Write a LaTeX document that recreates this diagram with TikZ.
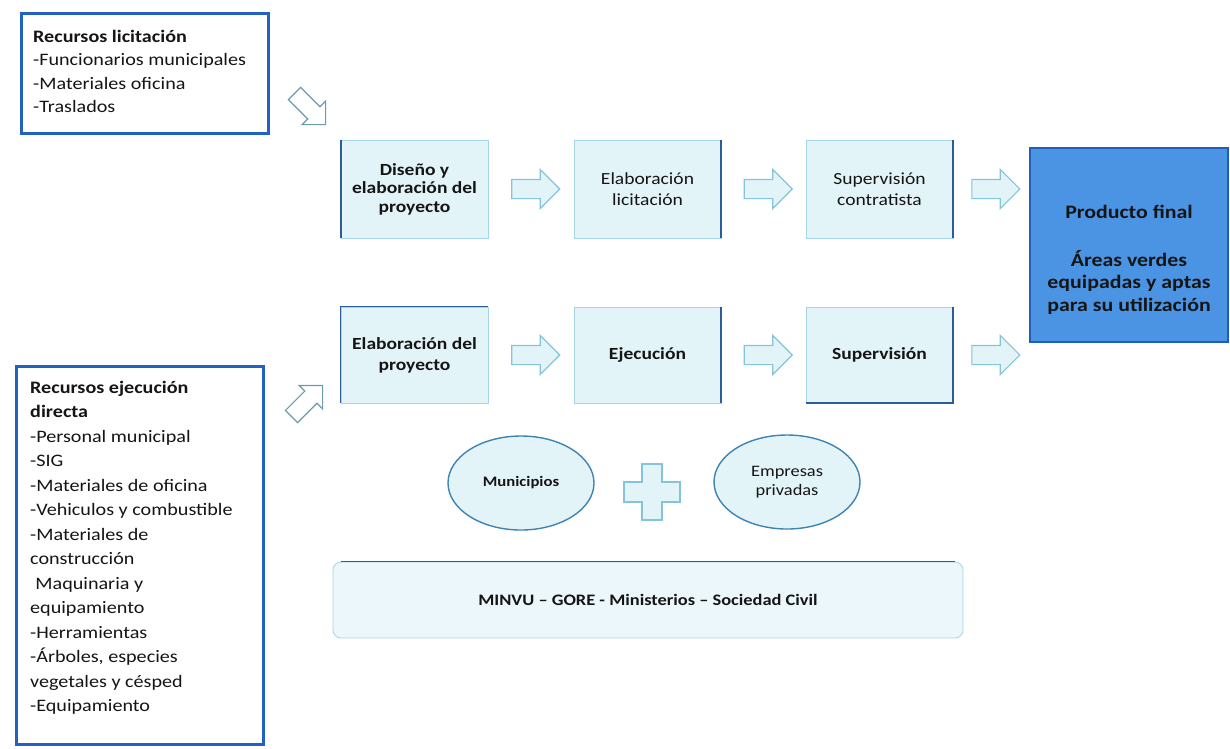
\documentclass[tikz,border=0pt]{standalone}
\usepackage{fontspec}
\setmainfont[FakeStretch=1.15]{Carlito}
\usetikzlibrary{shapes.arrows,shapes.geometric,calc}

\definecolor{resblue}{HTML}{2462C2}
\definecolor{boxfill}{HTML}{E3F4F9}
\definecolor{boxline}{HTML}{A6D5E4}
\definecolor{edgeblue}{HTML}{2B5D9C}
\definecolor{pffill}{HTML}{4A94E3}
\definecolor{pfline}{HTML}{1E5DB8}
\definecolor{ovalline}{HTML}{3D84B3}
\definecolor{arrowline}{HTML}{84C3D8}
\definecolor{inktext}{HTML}{151515}

\begin{document}
\begin{tikzpicture}[x=1pt,y=-1pt,
  every node/.style={text=inktext},
  resbox/.style={draw=resblue, line width=2.6pt, fill=white, inner sep=0pt, anchor=north west},
  restext/.style={align=left, anchor=north west, inner sep=0pt},
  stepbox/.style={draw=boxline, line width=0.8pt, fill=boxfill, minimum width=147pt,
    minimum height=98pt, align=center, inner sep=2pt, font=\fontsize{17}{21}\selectfont},
  darkedge/.style={draw=edgeblue, line width=2pt},
  flowarrow/.style={shape=single arrow, draw=arrowline, fill=boxfill, line width=1.2pt,
    minimum height=48pt, inner xsep=0pt, inner ysep=9pt, single arrow head extend=10pt},
  feedarrow/.style={shape=single arrow, draw=arrowline!80!black, fill=white, line width=1.2pt,
    minimum height=44pt, inner xsep=0pt, inner ysep=8pt, single arrow head extend=8pt},
  pfbox/.style={draw=pfline, line width=2.6pt, fill=pffill, minimum width=198pt, minimum height=194pt},
  oval/.style={ellipse, draw=ovalline, line width=1.4pt, fill=boxfill, minimum width=146pt,
    minimum height=94pt, inner sep=0pt, align=center, font=\fontsize{14.5}{18}\selectfont\bfseries},
  plusshape/.style={draw=arrowline, fill=boxfill, line width=1.2pt},
  basebox/.style={draw=boxline, line width=0.8pt, fill=boxfill!70!white, rounded corners=8pt,
    minimum width=630pt, minimum height=76pt, font=\fontsize{16}{18}\selectfont\bfseries}
]
\useasboundingbox (0,0) rectangle (1230,748);

% resources for the tender
\node[resbox, minimum width=247pt, minimum height=120pt] (rl) at (20,12) {};
\node[restext, font=\fontsize{17.5}{23.5}\selectfont] (rlt) at (33,30)
  {\textbf{Recursos licitación}\\
   -Funcionarios municipales\\
   -Materiales oficina\\
   -Traslados};

% resources for direct execution
\node[resbox, minimum width=247pt, minimum height=378pt] (re) at (15,365) {};
\node[restext, font=\fontsize{17.5}{24.5}\selectfont] (ret) at (30,381)
  {\textbf{Recursos ejecución}\\
   \textbf{directa}\\
   -Personal municipal\\
   -SIG\\
   -Materiales de oficina\\
   -Vehiculos y combustible\\
   -Materiales de\\
   construcción\\
   \hspace*{0.3em}Maquinaria y\\
   equipamiento\\
   -Herramientas\\
   -Árboles, especies\\
   vegetales y césped\\
   -Equipamiento};

% tender process
\node[stepbox, font=\fontsize{17}{18.5}\selectfont\bfseries] (A) at (414.5,189) {Diseño y\\elaboración del\\proyecto};
\node[stepbox] (B) at (647.5,189) {Elaboración\\licitación};
\node[stepbox] (C) at (879.5,189) {Supervisión\\contratista};

% direct execution process
\node[stepbox, minimum height=96pt, font=\fontsize{17}{21}\selectfont\bfseries] (D) at (414.5,355) {Elaboración del\\proyecto};
\node[stepbox, minimum height=96pt, font=\fontsize{17}{21}\selectfont\bfseries] (E) at (647.5,355) {Ejecución};
\node[stepbox, minimum height=96pt, font=\fontsize{17}{21}\selectfont\bfseries] (F) at (879.5,355) {Supervisión};

% darker edges of the step boxes
\draw[darkedge] (A.north west) -- (A.south west);
\draw[darkedge] (B.north east) -- (B.south east);
\draw[darkedge] (C.north east) -- (C.south east);
\draw[darkedge, line width=1.2pt] (D.south west) -- (D.north west) -- (D.north east);
\draw[darkedge] (E.north east) -- (E.south east);
\draw[darkedge] (F.north east) -- (F.south east) -- (F.south west);

% final product
\node[pfbox] (pf) at (1129,245) {};
\node[align=center, font=\fontsize{19}{22.5}\selectfont\bfseries] (pft) at (1129,260)
  {Producto final\\[25pt]Áreas verdes\\equipadas y aptas\\para su utilización};

% block arrows between the stages
\node[flowarrow] (a1) at ($(A.east)!0.5!(B.west)$) {};
\node[flowarrow] (a2) at ($(B.east)!0.5!(C.west)$) {};
\node[flowarrow] (a3) at ($(C.east)!0.5!(C.east -| pf.west)$) {};
\node[flowarrow] (a4) at ($(D.east)!0.5!(E.west)$) {};
\node[flowarrow] (a5) at ($(E.east)!0.5!(F.west)$) {};
\node[flowarrow] (a6) at ($(F.east)!0.5!(F.east -| pf.west)$) {};

% resources feeding the processes
\node[feedarrow, rotate=-45] (f1) at (307,106) {};
\node[feedarrow, rotate=45] (f2) at (304,404) {};

% actors
\node[oval] (mun) at (521,483) {Municipios};
\node[oval, font=\fontsize{16}{19}\selectfont] (emp) at (787,482) {Empresas\\privadas};
\coordinate (plus) at (652,492);
\draw[plusshape] ($(plus)+(-10,-28)$) -- ++(20,0) -- ++(0,18) -- ++(18,0) -- ++(0,20)
  -- ++(-18,0) -- ++(0,18) -- ++(-20,0) -- ++(0,-18) -- ++(-18,0) -- ++(0,-20)
  -- ++(18,0) -- cycle;

% institutional base
\node[basebox] (base) at (648,600) {MINVU – GORE - Ministerios – Sociedad Civil};
\draw[darkedge, line width=1.2pt] ([xshift=8pt]base.north west) -- ([xshift=-8pt]base.north east);
\end{tikzpicture}
\end{document}
